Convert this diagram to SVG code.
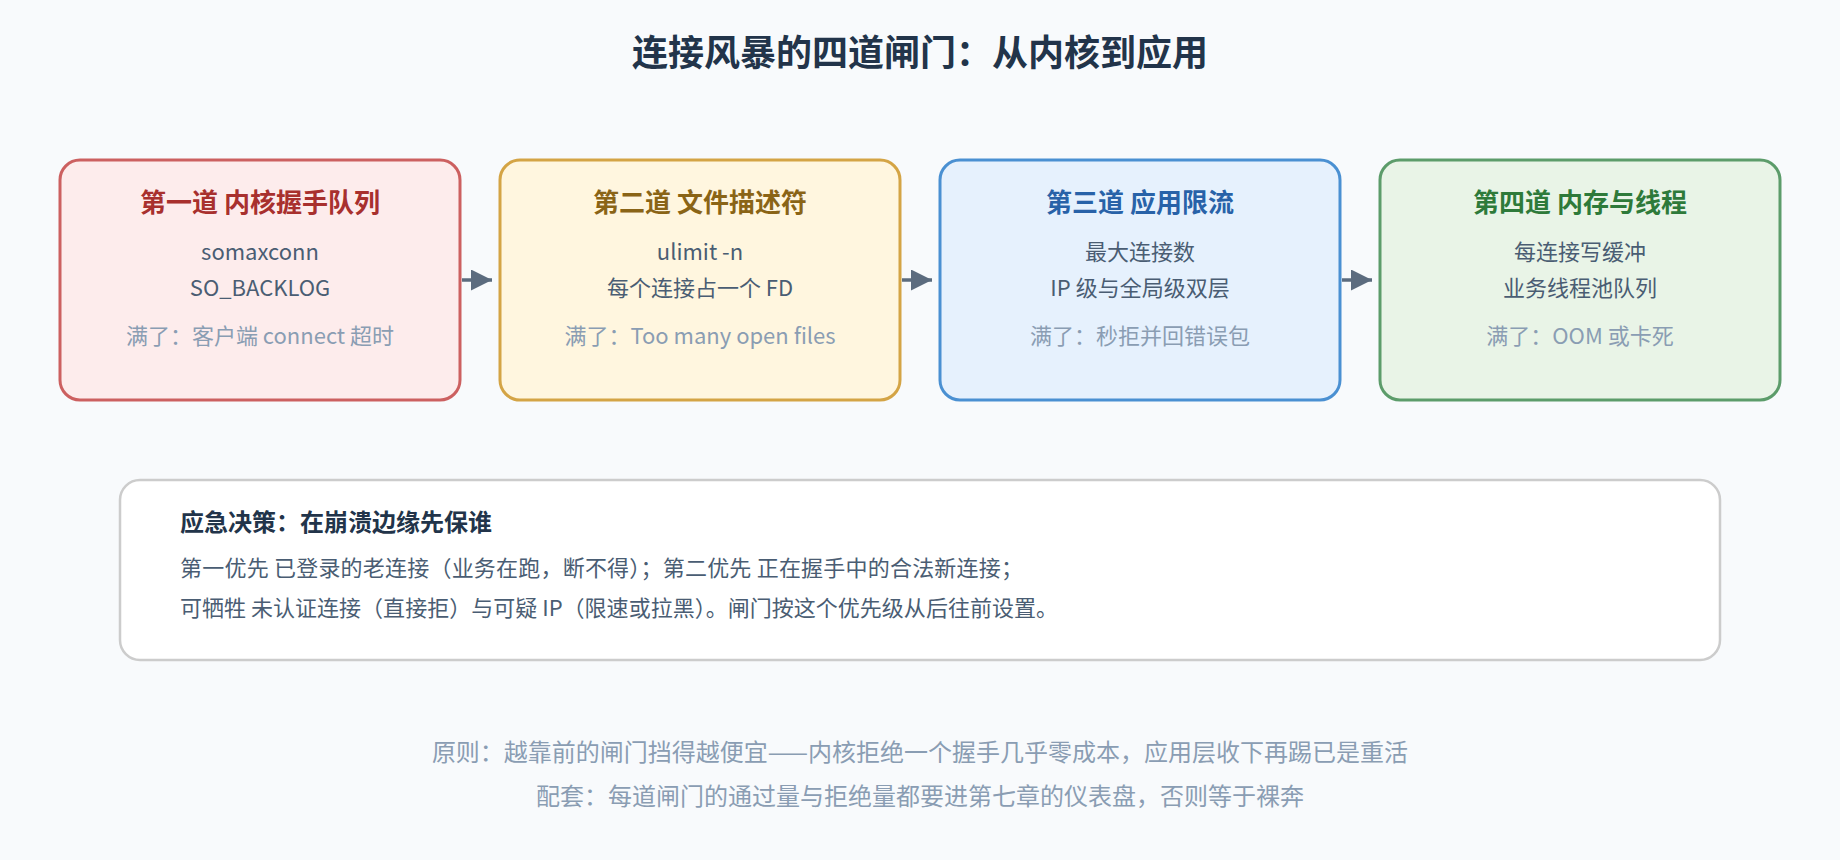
<svg xmlns="http://www.w3.org/2000/svg" width="1840" height="860" viewBox="0 0 1840 860">
  <defs>
    <style>
      text { font-family: "Noto Sans CJK SC", "Noto Sans", "Liberation Sans", sans-serif; }
      .title { font-size: 36px; font-weight: 700; fill: #22344a; text-anchor: middle; }
      .gate { stroke-width: 3; }
      .head { font-size: 26px; font-weight: 700; text-anchor: middle; }
      .body { font-size: 22px; fill: #4a5d73; text-anchor: middle; }
      .full { font-size: 22px; fill: #8a9db3; text-anchor: middle; }
      .panel { fill: #ffffff; stroke: #cccccc; stroke-width: 2.5; }
      .phead { font-size: 24px; font-weight: 700; fill: #22344a; }
      .ptext { font-size: 22px; fill: #4a5d73; }
      .foot { font-size: 24px; fill: #8a9db3; text-anchor: middle; }
      .conn { stroke: #5b6b7e; stroke-width: 3.5; fill: none; marker-end: url(#arrow); }
    </style>
    <marker id="arrow" viewBox="0 0 10 10" refX="10" refY="5" markerWidth="7" markerHeight="6" markerUnits="strokeWidth" orient="auto">
      <path d="M0,0 L10,5 L0,10 z" fill="#5b6b7e"/>
    </marker>
  </defs>

  <rect x="0" y="0" width="1840" height="860" fill="#f8fafc"/>

  <text class="title" x="920" y="66">连接风暴的四道闸门：从内核到应用</text>

  <g id="gate1">
    <rect class="gate" x="60" y="160" width="400" height="240" rx="20" fill="#fdecec" stroke="#cc6060"/>
    <text class="head" x="260" y="212" fill="#a8302e">第一道 内核握手队列</text>
    <text class="body" x="260" y="260">somaxconn</text>
    <text class="body" x="260" y="296">SO_BACKLOG</text>
    <text class="full" x="260" y="344">满了：客户端 connect 超时</text>
  </g>

  <g id="gate2">
    <rect class="gate" x="500" y="160" width="400" height="240" rx="20" fill="#fff6df" stroke="#d4a445"/>
    <text class="head" x="700" y="212" fill="#8a6416">第二道 文件描述符</text>
    <text class="body" x="700" y="260">ulimit -n</text>
    <text class="body" x="700" y="296">每个连接占一个 FD</text>
    <text class="full" x="700" y="344">满了：Too many open files</text>
  </g>

  <g id="gate3">
    <rect class="gate" x="940" y="160" width="400" height="240" rx="20" fill="#e6f1fd" stroke="#4a90d2"/>
    <text class="head" x="1140" y="212" fill="#2862a8">第三道 应用限流</text>
    <text class="body" x="1140" y="260">最大连接数</text>
    <text class="body" x="1140" y="296">IP 级与全局级双层</text>
    <text class="full" x="1140" y="344">满了：秒拒并回错误包</text>
  </g>

  <g id="gate4">
    <rect class="gate" x="1380" y="160" width="400" height="240" rx="20" fill="#e9f4e7" stroke="#5c9c6a"/>
    <text class="head" x="1580" y="212" fill="#2e7a3a">第四道 内存与线程</text>
    <text class="body" x="1580" y="260">每连接写缓冲</text>
    <text class="body" x="1580" y="296">业务线程池队列</text>
    <text class="full" x="1580" y="344">满了：OOM 或卡死</text>
  </g>

  <g id="connectors">
    <line class="conn" x1="462" y1="280" x2="492" y2="280"/>
    <line class="conn" x1="902" y1="280" x2="932" y2="280"/>
    <line class="conn" x1="1342" y1="280" x2="1372" y2="280"/>
  </g>

  <g id="decision">
    <rect class="panel" x="120" y="480" width="1600" height="180" rx="20"/>
    <text class="phead" x="180" y="531">应急决策：在崩溃边缘先保谁</text>
    <text class="ptext" x="180" y="576" textLength="843" lengthAdjust="spacing">第一优先 已登录的老连接（业务在跑，断不得）；第二优先 正在握手中的合法新连接；</text>
    <text class="ptext" x="180" y="616" textLength="878" lengthAdjust="spacing">可牺牲 未认证连接（直接拒）与可疑 IP（限速或拉黑）。闸门按这个优先级从后往前设置。</text>
  </g>

  <g id="footer">
    <text class="foot" x="920" y="761">原则：越靠前的闸门挡得越便宜——内核拒绝一个握手几乎零成本，应用层收下再踢已是重活</text>
    <text class="foot" x="920" y="805">配套：每道闸门的通过量与拒绝量都要进第七章的仪表盘，否则等于裸奔</text>
  </g>
</svg>
